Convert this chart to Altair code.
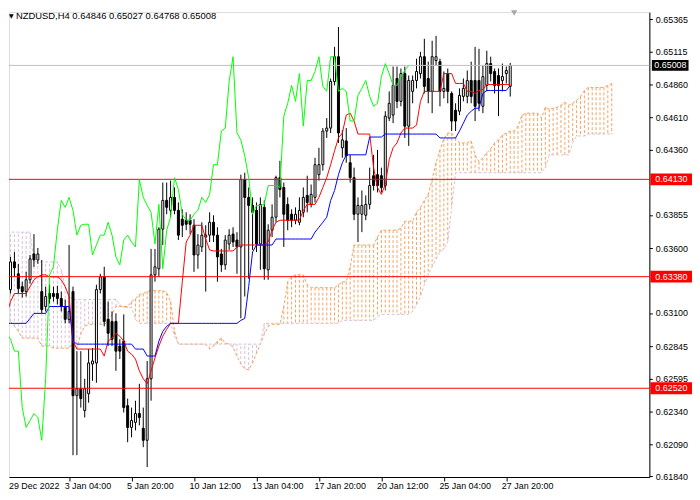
import altair as alt
import pandas as pd

# ---------------- data ----------------
opens = [
    0.63417, 0.63280, 0.63494, 0.63402, 0.63303, 0.63265, 0.63356, 0.63555, 0.63509, 0.63265,
    0.63150, 0.63250, 0.63250, 0.63250, 0.63212, 0.63150, 0.63051, 0.63265, 0.62463, 0.62516,
    0.62348, 0.62478, 0.62707, 0.62715, 0.63280, 0.63379, 0.63051, 0.63035, 0.63035, 0.62845,
    0.62883, 0.62386, 0.62218, 0.62257, 0.62325, 0.62211, 0.62119, 0.62593, 0.63394, 0.63441,
    0.63746, 0.63968, 0.63891, 0.63991, 0.63891, 0.63823, 0.63815, 0.63815, 0.63776, 0.63547,
    0.63609, 0.63685, 0.63700, 0.63799, 0.63700, 0.63555, 0.63471, 0.63632, 0.63708, 0.63662,
    0.63609, 0.64128, 0.63991, 0.63929, 0.63891, 0.63632, 0.63914, 0.63433, 0.63738, 0.63838,
    0.64143, 0.64067, 0.63937, 0.63861, 0.63815, 0.63799, 0.63876, 0.64006, 0.63937, 0.63991,
    0.64166, 0.64243, 0.64502, 0.64525, 0.64884, 0.65075, 0.64373, 0.64426, 0.64258, 0.64143,
    0.63861, 0.63861, 0.63853, 0.63937, 0.64158, 0.64166, 0.64158, 0.64082, 0.64602, 0.64625,
    0.64907, 0.64731, 0.64945, 0.64540, 0.64808, 0.64892, 0.64945, 0.65075, 0.64907, 0.64808,
    0.65045, 0.65037, 0.64808, 0.64945, 0.64792, 0.64663, 0.64655, 0.64769, 0.64769, 0.64892,
    0.64892, 0.64892, 0.64693, 0.64854, 0.65022, 0.64961, 0.64930, 0.64892, 0.64945, 0.64846,
]
highs = [
    0.63479, 0.63532, 0.63570, 0.63479, 0.63341, 0.63417, 0.63547, 0.63708, 0.63601, 0.63509,
    0.63303, 0.63318, 0.63303, 0.63310, 0.63265, 0.63204, 0.63624, 0.63303, 0.62806, 0.62806,
    0.62593, 0.62822, 0.62830, 0.63318, 0.63402, 0.63456, 0.63188, 0.63112, 0.63097, 0.62898,
    0.63089, 0.62440, 0.62371, 0.62424, 0.62554, 0.62371, 0.62730, 0.63594, 0.63594, 0.63761,
    0.64105, 0.64105, 0.64120, 0.64067, 0.63952, 0.63899, 0.63876, 0.63861, 0.63823, 0.63708,
    0.63799, 0.63776, 0.63876, 0.63853, 0.63761, 0.63594, 0.63700, 0.63746, 0.63761, 0.63723,
    0.64166, 0.64181, 0.64067, 0.63991, 0.63952, 0.63991, 0.63968, 0.63784, 0.63937, 0.64158,
    0.64273, 0.64105, 0.63991, 0.63899, 0.63914, 0.63991, 0.64067, 0.64158, 0.64090, 0.64296,
    0.64373, 0.64525, 0.64602, 0.64907, 0.65151, 0.65304, 0.64510, 0.64525, 0.64319, 0.64220,
    0.63991, 0.64044, 0.64006, 0.64220, 0.64319, 0.64357, 0.64220, 0.64655, 0.64808, 0.64999,
    0.64999, 0.64984, 0.64999, 0.64930, 0.64930, 0.65060, 0.65113, 0.65213, 0.65037, 0.65198,
    0.65236, 0.65060, 0.64961, 0.64984, 0.64808, 0.64716, 0.64831, 0.64907, 0.64969, 0.65037,
    0.65151, 0.65136, 0.65007, 0.65121, 0.65075, 0.64984, 0.64984, 0.65022, 0.64999, 0.65027,
]
lows = [
    0.63188, 0.63250, 0.63379, 0.63250, 0.63219, 0.63227, 0.63326, 0.63456, 0.63479, 0.63097,
    0.63112, 0.63173, 0.63188, 0.63165, 0.63112, 0.63020, 0.63020, 0.62004, 0.62004, 0.62371,
    0.62295, 0.62409, 0.62577, 0.62562, 0.63250, 0.62997, 0.62845, 0.62845, 0.62654, 0.62745,
    0.62333, 0.62104, 0.62142, 0.62195, 0.62234, 0.62066, 0.61913, 0.62424, 0.63341, 0.63379,
    0.63624, 0.63861, 0.63838, 0.63861, 0.63662, 0.63685, 0.63738, 0.63708, 0.63417, 0.63441,
    0.63570, 0.63265, 0.63647, 0.63647, 0.63341, 0.63417, 0.63433, 0.63586, 0.63609, 0.63402,
    0.63059, 0.63227, 0.63364, 0.63586, 0.63570, 0.63433, 0.63356, 0.63356, 0.63685, 0.63799,
    0.63991, 0.63609, 0.63738, 0.63761, 0.63784, 0.63776, 0.63838, 0.63876, 0.63914, 0.63952,
    0.64120, 0.64197, 0.64449, 0.64487, 0.64854, 0.64411, 0.64296, 0.64258, 0.64105, 0.63815,
    0.63647, 0.63723, 0.63815, 0.63899, 0.64044, 0.64029, 0.64029, 0.64044, 0.64579, 0.64563,
    0.64678, 0.64693, 0.64449, 0.64388, 0.64716, 0.64831, 0.64907, 0.64792, 0.64716, 0.64640,
    0.65007, 0.64693, 0.64754, 0.64716, 0.64502, 0.64502, 0.64625, 0.64731, 0.64716, 0.64716,
    0.64579, 0.64655, 0.64640, 0.64808, 0.64884, 0.64792, 0.64617, 0.64808, 0.64869, 0.64768,
]
closes = [
    0.63265, 0.63494, 0.63448, 0.63288, 0.63265, 0.63356, 0.63517, 0.63509, 0.63555, 0.63127,
    0.63227, 0.63212, 0.63227, 0.63212, 0.63150, 0.63051, 0.63112, 0.62463, 0.62516, 0.62440,
    0.62516, 0.62715, 0.62730, 0.63280, 0.63379, 0.63035, 0.62944, 0.62898, 0.62806, 0.62806,
    0.62371, 0.62218, 0.62272, 0.62325, 0.62295, 0.62119, 0.62593, 0.63394, 0.63456, 0.63746,
    0.63968, 0.63914, 0.63991, 0.63891, 0.63700, 0.63776, 0.63784, 0.63784, 0.63547, 0.63624,
    0.63700, 0.63700, 0.63799, 0.63700, 0.63532, 0.63471, 0.63662, 0.63700, 0.63647, 0.63609,
    0.64128, 0.63991, 0.63929, 0.63876, 0.63632, 0.63937, 0.63441, 0.63738, 0.63838, 0.64143,
    0.64052, 0.63861, 0.63815, 0.63815, 0.63861, 0.63891, 0.63991, 0.63952, 0.64014, 0.64243,
    0.64243, 0.64502, 0.64525, 0.64884, 0.65075, 0.64487, 0.64434, 0.64311, 0.64143, 0.63861,
    0.63929, 0.63929, 0.63937, 0.64082, 0.64082, 0.64082, 0.64067, 0.64617, 0.64716, 0.64854,
    0.64731, 0.64945, 0.64540, 0.64892, 0.64892, 0.64961, 0.65075, 0.64846, 0.64808, 0.65075,
    0.65075, 0.64808, 0.64831, 0.64808, 0.64579, 0.64579, 0.64777, 0.64831, 0.64892, 0.64769,
    0.64693, 0.64716, 0.64922, 0.65022, 0.64945, 0.64854, 0.64854, 0.64922, 0.64969, 0.65008,
]
tenkan = [
    0.63089, 0.63188, 0.63250, 0.63250, 0.63250, 0.63250, 0.63303, 0.63356, 0.63379, 0.63394,
    0.63394, 0.63379, 0.63379, 0.63379, 0.63356, 0.63303, 0.63227, 0.62883, 0.62822, 0.62822,
    0.62822, 0.62822, 0.62822, 0.62822, 0.62822, 0.62768, 0.62883, 0.62906, 0.62944, 0.62921,
    0.62883, 0.62806, 0.62783, 0.62745, 0.62654, 0.62593, 0.62554, 0.62654, 0.62753, 0.62845,
    0.62921, 0.62974, 0.63020, 0.63020, 0.63020, 0.63341, 0.63647, 0.63700, 0.63776, 0.63776,
    0.63776, 0.63670, 0.63586, 0.63578, 0.63578, 0.63578, 0.63578, 0.63578, 0.63578, 0.63609,
    0.63624, 0.63624, 0.63624, 0.63624, 0.63624, 0.63624, 0.63624, 0.63647, 0.63738, 0.63799,
    0.63815, 0.63815, 0.63815, 0.63815, 0.63815, 0.63815, 0.63891, 0.63937, 0.63937, 0.63937,
    0.63991, 0.64067, 0.64143, 0.64243, 0.64350, 0.64449, 0.64487, 0.64625, 0.64640, 0.64579,
    0.64479, 0.64479, 0.64479, 0.64479, 0.64220, 0.64067, 0.64014, 0.64090, 0.64281, 0.64373,
    0.64411, 0.64487, 0.64525, 0.64525, 0.64525, 0.64548, 0.64731, 0.64808, 0.64808, 0.64808,
    0.64808, 0.64808, 0.64945, 0.64945, 0.64945, 0.64869, 0.64869, 0.64869, 0.64808, 0.64808,
    0.64792, 0.64815, 0.64823, 0.64861, 0.64861, 0.64861, 0.64861, 0.64861, 0.64861, 0.64861,
]
kijun = [
    0.63020, 0.63020, 0.63020, 0.63020, 0.63020, 0.63020, 0.63058, 0.63097, 0.63097, 0.63097,
    0.63097, 0.63150, 0.63150, 0.63150, 0.63150, 0.63150, 0.63150, 0.62883, 0.62860, 0.62860,
    0.62860, 0.62860, 0.62860, 0.62860, 0.62860, 0.62860, 0.62860, 0.62860, 0.62860, 0.62860,
    0.62860, 0.62860, 0.62860, 0.62822, 0.62822, 0.62822, 0.62768, 0.62768, 0.62768, 0.62883,
    0.62959, 0.62997, 0.63020, 0.63020, 0.63020, 0.63020, 0.63020, 0.63020, 0.63020, 0.63020,
    0.63020, 0.63020, 0.63020, 0.63020, 0.63020, 0.63020, 0.63020, 0.63020, 0.63020, 0.63020,
    0.63043, 0.63058, 0.63303, 0.63570, 0.63624, 0.63624, 0.63624, 0.63624, 0.63624, 0.63670,
    0.63670, 0.63670, 0.63670, 0.63670, 0.63670, 0.63670, 0.63670, 0.63670, 0.63670, 0.63723,
    0.63761, 0.63799, 0.63838, 0.63967, 0.64044, 0.64166, 0.64258, 0.64319, 0.64319, 0.64319,
    0.64319, 0.64319, 0.64319, 0.64456, 0.64456, 0.64456, 0.64456, 0.64479, 0.64479, 0.64479,
    0.64479, 0.64479, 0.64479, 0.64479, 0.64479, 0.64479, 0.64479, 0.64479, 0.64479, 0.64479,
    0.64479, 0.64449, 0.64449, 0.64449, 0.64449, 0.64449, 0.64502, 0.64563, 0.64625, 0.64655,
    0.64678, 0.64678, 0.64792, 0.64815, 0.64815, 0.64815, 0.64815, 0.64815, 0.64815, 0.64854,
]
span_a = [
    0.63058, 0.63035, 0.62997, 0.62959, 0.62906, 0.62906, 0.62906, 0.62906, 0.62906, 0.62845,
    0.62845, 0.62845, 0.62829, 0.62829, 0.62829, 0.62829, 0.62829, 0.62868, 0.62829, 0.62936,
    0.62997, 0.63013, 0.63013, 0.63013, 0.63013, 0.63013, 0.63035, 0.63089, 0.63150, 0.63150,
    0.63150, 0.63150, 0.63188, 0.63211, 0.63242, 0.63250, 0.63265, 0.63272, 0.63272, 0.63272,
    0.63272, 0.63257, 0.63188, 0.62959, 0.62860, 0.62860, 0.62860, 0.62860, 0.62860, 0.62860,
    0.62860, 0.62860, 0.62822, 0.62845, 0.62883, 0.62906, 0.62868, 0.62860, 0.62837, 0.62768,
    0.62707, 0.62669, 0.62661, 0.62715, 0.62791, 0.62860, 0.62936, 0.62997, 0.63013, 0.63013,
    0.63013, 0.63150, 0.63341, 0.63379, 0.63394, 0.63394, 0.63394, 0.63318, 0.63295, 0.63295,
    0.63295, 0.63295, 0.63295, 0.63295, 0.63295, 0.63318, 0.63341, 0.63341, 0.63456, 0.63624,
    0.63624, 0.63624, 0.63624, 0.63624, 0.63624, 0.63685, 0.63738, 0.63738, 0.63738, 0.63738,
    0.63738, 0.63754, 0.63807, 0.63807, 0.63807, 0.63876, 0.63914, 0.63967, 0.64014, 0.64128,
    0.64258, 0.64357, 0.64441, 0.64487, 0.64487, 0.64449, 0.64411, 0.64411, 0.64411, 0.64426,
    0.64319, 0.64265, 0.64296, 0.64334, 0.64365, 0.64411, 0.64434, 0.64472, 0.64487, 0.64502,
    0.64502, 0.64540, 0.64625, 0.64640, 0.64640, 0.64640, 0.64640, 0.64602, 0.64686, 0.64670,
    0.64678, 0.64686, 0.64701, 0.64724, 0.64701, 0.64716, 0.64739, 0.64770, 0.64815, 0.64838,
    0.64838, 0.64838, 0.64838, 0.64838, 0.64854, 0.64869,
]
span_b = [
    0.63723, 0.63723, 0.63723, 0.63723, 0.63723, 0.63723, 0.63723, 0.63494, 0.63494, 0.63494,
    0.63494, 0.63494, 0.63494, 0.63494, 0.63433, 0.63303, 0.63227, 0.63204, 0.63204, 0.63204,
    0.63204, 0.63204, 0.63204, 0.63204, 0.63204, 0.63204, 0.63204, 0.63204, 0.63204, 0.63165,
    0.63142, 0.63142, 0.63142, 0.63051, 0.63020, 0.63020, 0.63020, 0.63020, 0.63020, 0.63020,
    0.63020, 0.63020, 0.63020, 0.62921, 0.62860, 0.62860, 0.62860, 0.62860, 0.62860, 0.62860,
    0.62860, 0.62860, 0.62860, 0.62860, 0.62860, 0.62860, 0.62860, 0.62860, 0.62860, 0.62860,
    0.62860, 0.62860, 0.62860, 0.62860, 0.62860, 0.62860, 0.63020, 0.63020, 0.63020, 0.63020,
    0.63020, 0.63020, 0.63020, 0.63020, 0.63020, 0.63020, 0.63020, 0.63020, 0.63020, 0.63020,
    0.63020, 0.63020, 0.63020, 0.63020, 0.63020, 0.63020, 0.63043, 0.63043, 0.63043, 0.63043,
    0.63043, 0.63043, 0.63043, 0.63043, 0.63043, 0.63074, 0.63089, 0.63089, 0.63089, 0.63089,
    0.63089, 0.63089, 0.63089, 0.63089, 0.63112, 0.63165, 0.63227, 0.63318, 0.63394, 0.63456,
    0.63517, 0.63570, 0.63593, 0.63647, 0.63914, 0.64181, 0.64181, 0.64181, 0.64181, 0.64181,
    0.64181, 0.64181, 0.64181, 0.64181, 0.64181, 0.64181, 0.64181, 0.64181, 0.64181, 0.64181,
    0.64181, 0.64181, 0.64181, 0.64181, 0.64181, 0.64181, 0.64181, 0.64181, 0.64220, 0.64319,
    0.64319, 0.64319, 0.64319, 0.64319, 0.64319, 0.64411, 0.64464, 0.64464, 0.64464, 0.64479,
    0.64479, 0.64479, 0.64479, 0.64479, 0.64479, 0.64479,
]
chikou_shift = 26
time_labels = ["29 Dec 2022", "3 Jan 04:00", "5 Jan 20:00", "10 Jan 12:00", "13 Jan 04:00",
               "17 Jan 20:00", "20 Jan 12:00", "25 Jan 04:00", "27 Jan 20:00"]
label_bars = [0, 16, 32, 48, 64, 80, 96, 112, 128]
price_ticks = [0.65365, 0.65115, 0.64860, 0.64610, 0.64360, 0.63855, 0.63600,
               0.63100, 0.62845, 0.62595, 0.62340, 0.62090, 0.61840]
levels = [0.64130, 0.63380, 0.62520]
symbol = "NZDUSD,H4"

# ---------------- layout (4 px per bar, as in the terminal) ----------------
W, H = 646, 469
PX_PER_BAR = 4.0
PX_PER_PRICE = 13090.0
FONT = "Liberation Sans"
x0 = 1.875
x_scale = alt.Scale(domain=[x0, x0 + W / PX_PER_BAR], nice=False, zero=False)
y_top = 0.65480 - 8 / PX_PER_PRICE
y_scale = alt.Scale(domain=[y_top - H / PX_PER_PRICE, y_top], nice=False, zero=False)

n = len(closes)
candles = pd.DataFrame({"bar": list(range(n)), "open": opens, "high": highs,
                        "low": lows, "close": closes})
candles["dir"] = ["up" if c >= o else "down" for o, c in zip(opens, closes)]

cloud = pd.DataFrame({"bar": list(range(len(span_a))), "a": span_a, "b": span_b})
cloud["kind"] = ["bull" if a >= b else "bear" for a, b in zip(span_a, span_b)]

ind = pd.DataFrame({"bar": list(range(n)), "tenkan": tenkan, "kijun": kijun})
chik = pd.DataFrame({"bar": [i - chikou_shift for i in range(chikou_shift, n)],
                     "value": closes[chikou_shift:]})

visible_bars = [b for b in label_bars if b >= x0]
arr = "[" + ",".join(f"'{t}'" for t in time_labels) + "]"
bars_arr = "[" + ",".join(str(b) for b in label_bars) + "]"
label_expr = f"{arr}[indexof({bars_arr}, datum.value)]"

x_axis = alt.Axis(values=visible_bars, labelExpr=label_expr, orient="bottom", grid=False,
                  labelAlign="left", labelBaseline="top", labelOffset=-5, labelPadding=1,
                  tickSize=4, tickColor="black", domainColor="black", labelColor="black",
                  labelFont=FONT, labelFontSize=9, labelOverlap=False, labelFlush=False,
                  title=None)
y_axis = alt.Axis(values=price_ticks, format=".5f", orient="right", grid=False,
                  labelAlign="left", labelBaseline="middle", labelPadding=3,
                  tickSize=3, tickColor="black", domainColor="black", labelColor="black",
                  labelFont=FONT, labelFontSize=9, labelOverlap=False, labelFlush=False,
                  title=None)


def X(f):
    return alt.X(f, type="quantitative", scale=x_scale, axis=x_axis)


def Y(f):
    return alt.Y(f, type="quantitative", scale=y_scale, axis=y_axis)


hatch = alt.Chart(cloud).mark_rule(strokeWidth=1, strokeDash=[3, 2], clip=True).encode(
    x=X("bar"), y=Y("a"), y2="b",
    color=alt.Color("kind:N", scale=alt.Scale(domain=["bull", "bear"],
                                              range=["#F4A460", "#D8BFD8"]), legend=None))
line_a = alt.Chart(cloud).mark_line(color="#F4A460", strokeWidth=1, strokeDash=[3, 2],
                                    clip=True).encode(x=X("bar"), y=Y("a"))
line_b = alt.Chart(cloud).mark_line(color="#D8BFD8", strokeWidth=1, strokeDash=[3, 2],
                                    clip=True).encode(x=X("bar"), y=Y("b"))

wick = alt.Chart(candles).mark_rule(color="black", strokeWidth=1, clip=True).encode(
    x=X("bar"), y=Y("low"), y2="high")
body = alt.Chart(candles).mark_bar(size=2, stroke="black", strokeWidth=1, clip=True).encode(
    x=X("bar"), y=Y("open"), y2="close",
    fill=alt.Color("dir:N", scale=alt.Scale(domain=["up", "down"], range=["white", "black"]),
                   legend=None))

lvl_df = pd.DataFrame({"price": levels, "text": [f"{v:.5f}" for v in levels]})
cur_df = pd.DataFrame({"price": [closes[-1]], "text": [f"{closes[-1]:.5f}"]})

lvl_lines = alt.Chart(lvl_df).mark_rule(color="#FF0000", strokeWidth=1).encode(y=Y("price"))
cur_line = alt.Chart(cur_df).mark_rule(color="#C0C0C0", strokeWidth=1).encode(y=Y("price"))

ten_line = alt.Chart(ind).mark_line(color="#FF0000", strokeWidth=1, clip=True).encode(
    x=X("bar"), y=Y("tenkan"))
kij_line = alt.Chart(ind).mark_line(color="#0000FF", strokeWidth=1, clip=True).encode(
    x=X("bar"), y=Y("kijun"))
chi_line = alt.Chart(chik).mark_line(color="#00FF00", strokeWidth=1, clip=True).encode(
    x=X("bar"), y=Y("value"))

lvl_box = alt.Chart(lvl_df).mark_tick(orient="horizontal", size=42, thickness=12,
                                      color="#FF0000", opacity=1).encode(
    x=alt.value(W + 22), y=Y("price"))
cur_box = alt.Chart(cur_df).mark_tick(orient="horizontal", size=37, thickness=11,
                                      color="black", opacity=1).encode(
    x=alt.value(W + 21), y=Y("price"))
lvl_txt = alt.Chart(lvl_df).mark_text(align="left", baseline="middle", font=FONT, fontSize=9,
                                      color="white").encode(
    x=alt.value(W + 6), y=Y("price"), text="text:N")
cur_txt = alt.Chart(cur_df).mark_text(align="left", baseline="middle", font=FONT, fontSize=9,
                                      color="white").encode(
    x=alt.value(W + 5), y=Y("price"), text="text:N")

# first time label: its bar sits under the page margin, so it is written at the left edge
first_lbl = alt.Chart(pd.DataFrame({"t": [time_labels[0]]})).mark_text(
    align="left", baseline="top", font=FONT, fontSize=9, color="black").encode(
    x=alt.value(0), y=alt.value(H + 5), text="t:N")

title_text = f"{symbol}  {opens[-1]:.5f} {highs[-1]:.5f} {lows[-1]:.5f} {closes[-1]:.5f}"
title = alt.Chart(pd.DataFrame({"t": [title_text]})).mark_text(
    align="left", baseline="middle", font=FONT, fontSize=9.5, color="black").encode(
    x=alt.value(7), y=alt.value(4), text="t:N")
tri = alt.Chart(pd.DataFrame({"t": ["\u25BC"]})).mark_text(
    align="left", baseline="middle", font="DejaVu Sans", fontSize=6, color="black").encode(
    x=alt.value(0), y=alt.value(4), text="t:N")
shift_mark = alt.Chart(pd.DataFrame({"bar": [n]})).mark_point(
    shape="triangle-down", filled=True, color="#A8A8A8", size=40, opacity=1).encode(
    x=X("bar"), y=alt.value(1))

chart = alt.layer(
    hatch, line_a, line_b, wick, body, lvl_lines, cur_line,
    ten_line, kij_line, chi_line,
    lvl_box, cur_box, lvl_txt, cur_txt, first_lbl, title, tri, shift_mark,
).properties(width=W, height=H, padding={"left": 0, "top": 0, "right": 0, "bottom": 0}
).configure_view(stroke=None).configure(background="white")

chart.save("out.html", embed_options={"renderer": "svg", "actions": False})
